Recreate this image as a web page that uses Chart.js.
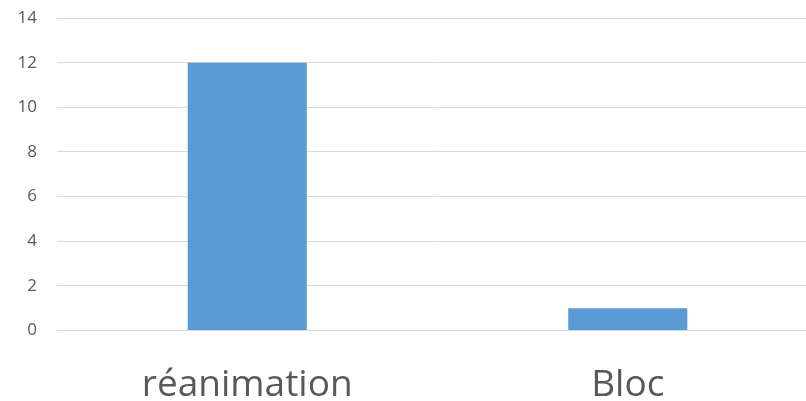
<!DOCTYPE html>
<html>
<head>
<meta charset="utf-8">
<script src="https://cdn.jsdelivr.net/npm/chart.js@4/dist/chart.umd.min.js"></script>
<style>
  html, body { margin: 0; padding: 0; background: #fff; overflow: hidden; }
  #wrap { width: 818px; height: 441px; }
</style>
</head>
<body>
<div id="wrap"><canvas id="chart_services"></canvas></div>
<script>
const services = ['réanimation', 'Bloc'];
const counts = [12, 1];
const yTicks = [0, 2, 4, 6, 8, 10, 12, 14];

const ctx = document.getElementById('chart_services').getContext('2d');

const servicesChart = new Chart(ctx, {
    type: 'bar',
    data: {
        labels: services,
        datasets: [{
            data: counts,
            backgroundColor: '#5b9bd5',
            borderWidth: 0,
            categoryPercentage: 1,
            barPercentage: 0.313
        }]
    },
    options: {
        responsive: true,
        maintainAspectRatio: false,
        animation: false,
        layout: {
            padding: { top: 18, left: 0, right: 0, bottom: 0 }
        },
        plugins: {
            legend: { display: false },
            tooltip: { enabled: false }
        },
        scales: {
            x: {
                grid: { display: false, drawTicks: false },
                border: { display: false },
                ticks: {
                    color: '#595959',
                    padding: 33,
                    font: { family: 'Open Sans', size: 37 }
                }
            },
            y: {
                min: yTicks[0],
                max: yTicks[yTicks.length - 1],
                afterBuildTicks: (scale) => {
                    scale.ticks = yTicks.map(v => ({ value: v }));
                },
                afterFit: (scale) => {
                    scale.width = 57;
                    scale.paddingTop = 0;
                    scale.paddingBottom = 0;
                },
                grid: { color: '#d9d9d9', lineWidth: 1, drawTicks: false },
                border: { display: false },
                ticks: {
                    color: '#595959',
                    padding: 20,
                    font: { family: 'Open Sans', size: 17 }
                }
            }
        }
    }
});
</script>
</body>
</html>
